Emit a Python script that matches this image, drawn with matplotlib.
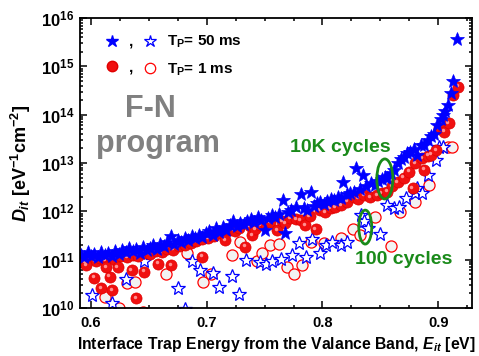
import numpy as np
import matplotlib
matplotlib.use("Agg")
import matplotlib.pyplot as plt
from matplotlib.patches import Ellipse
from matplotlib.ticker import FixedLocator, FuncFormatter, LogLocator, MultipleLocator, NullFormatter
from matplotlib.transforms import offset_copy

plt.rcParams['font.family'] = ['Liberation Sans', 'DejaVu Sans']
plt.rcParams['font.weight'] = 'bold'
plt.rcParams['mathtext.fontset'] = 'custom'
plt.rcParams['mathtext.rm'] = 'Liberation Sans:bold'
plt.rcParams['mathtext.bf'] = 'Liberation Sans:bold'
plt.rcParams['mathtext.it'] = 'Liberation Sans:italic:bold'

# 10K cycles, Tp = 50 ms (filled stars) -- energy [eV], log10(Dit)
star10k_x = [0.591, 0.594, 0.597, 0.600, 0.603, 0.606, 0.609, 0.612, 0.615, 0.618,
             0.621, 0.624, 0.627, 0.630, 0.633, 0.636, 0.639, 0.642, 0.645, 0.648,
             0.651, 0.654, 0.657, 0.660, 0.663, 0.666, 0.669, 0.672, 0.675, 0.678,
             0.681, 0.684, 0.687, 0.690, 0.693, 0.696, 0.699, 0.702, 0.705, 0.708,
             0.711, 0.714, 0.717, 0.720, 0.723, 0.726, 0.729, 0.732, 0.735, 0.738,
             0.741, 0.744, 0.747, 0.750, 0.753, 0.756, 0.759, 0.762, 0.766, 0.768,
             0.770, 0.773, 0.777, 0.781, 0.784, 0.787, 0.790, 0.793, 0.795, 0.798,
             0.801, 0.804, 0.807, 0.810, 0.813, 0.816, 0.818, 0.821, 0.824, 0.827,
             0.829, 0.832, 0.835, 0.838, 0.842, 0.845, 0.848, 0.851, 0.854, 0.856,
             0.859, 0.862, 0.865, 0.868, 0.870, 0.873, 0.876, 0.879, 0.882, 0.885,
             0.888, 0.891, 0.894, 0.896, 0.899, 0.902, 0.904, 0.906, 0.908, 0.911,
             0.913, 0.916]
star10k_y = [11.10, 11.05, 11.15, 11.08, 11.12, 11.05, 11.16, 11.10, 11.13, 11.07,
             11.18, 11.12, 11.20, 11.15, 11.24, 11.17, 11.22, 11.14, 11.27, 11.20,
             11.25, 11.30, 11.22, 11.33, 11.28, 11.36, 11.49, 11.33, 11.40, 11.37,
             11.45, 11.40, 11.48, 11.44, 11.52, 11.47, 11.55, 11.60, 11.52, 11.65,
             11.58, 11.68, 11.62, 11.72, 11.79, 11.70, 11.76, 11.73, 11.80, 11.85,
             11.78, 11.88, 11.83, 11.61, 11.86, 11.92, 11.89, 11.95, 12.23, 11.55,
             11.98, 12.03, 12.10, 12.36, 12.06, 12.03, 12.39, 12.12, 12.17, 12.20,
             12.15, 12.22, 12.26, 12.24, 12.30, 12.28, 12.61, 12.35, 12.38, 12.41,
             12.89, 12.46, 12.75, 12.52, 12.58, 12.55, 12.63, 12.66, 12.72, 12.68,
             12.80, 12.86, 12.99, 13.08, 13.13, 13.20, 13.23, 13.28, 13.17, 13.37,
             13.37, 13.48, 13.55, 13.61, 13.78, 13.92, 13.99, 14.08, 14.20, 14.45,
             14.70, 15.57]

# 100 cycles, Tp = 50 ms (open stars)
star100_x = [0.601, 0.618, 0.630, 0.646, 0.675, 0.681, 0.687, 0.694, 0.705, 0.711,
             0.722, 0.728, 0.734, 0.746, 0.751, 0.756, 0.764, 0.774, 0.780, 0.786,
             0.791, 0.798, 0.803, 0.808, 0.816, 0.821, 0.833, 0.836, 0.839, 0.850,
             0.856, 0.862, 0.866, 0.872, 0.880, 0.882, 0.886, 0.891, 0.898, 0.901,
             0.904]
star100_y = [10.27, 10.10, 10.59, 10.98, 10.42, 9.98, 10.97, 10.78, 10.72, 10.43,
             10.66, 10.30, 10.99, 10.96, 10.92, 10.98, 11.01, 11.09, 11.35, 11.06,
             11.42, 11.13, 11.30, 11.36, 11.30, 11.37, 11.92, 11.79, 11.65, 11.54,
             12.13, 12.06, 12.10, 12.27, 12.37, 12.48, 12.37, 12.75, 13.06, 13.34,
             13.34]

# 10K cycles, Tp = 1 ms (filled circles)
dot10k_x = [0.591, 0.595, 0.599, 0.604, 0.608, 0.612, 0.617, 0.621, 0.626, 0.631,
            0.636, 0.641, 0.646, 0.651, 0.656, 0.661, 0.666, 0.671, 0.676, 0.681,
            0.686, 0.691, 0.696, 0.701, 0.706, 0.712, 0.716, 0.720, 0.724, 0.728,
            0.733, 0.737, 0.739, 0.742, 0.746, 0.750, 0.755, 0.761, 0.765, 0.768,
            0.772, 0.777, 0.781, 0.785, 0.789, 0.794, 0.798, 0.802, 0.807, 0.811,
            0.816, 0.821, 0.827, 0.831, 0.836, 0.841, 0.847, 0.851, 0.856, 0.860,
            0.865, 0.870, 0.875, 0.878, 0.880, 0.886, 0.888, 0.891, 0.894, 0.898,
            0.901, 0.905, 0.909, 0.913, 0.917,
            0.596, 0.603, 0.609, 0.613, 0.616, 0.618, 0.623, 0.635, 0.639, 0.646,
            0.658, 0.669, 0.696]
dot10k_y = [11.00, 10.95, 11.02, 10.97, 11.03, 10.98, 11.05, 11.00, 11.08, 11.05,
            11.10, 11.07, 11.14, 11.12, 11.18, 11.16, 11.23, 11.21, 11.28, 11.30,
            11.34, 11.38, 11.42, 11.45, 11.50, 11.55, 11.41, 11.62, 11.60, 11.66,
            11.27, 11.70, 11.51, 11.63, 11.72, 11.75, 11.78, 11.61, 11.80, 11.75,
            11.86, 11.84, 11.82, 11.72, 11.90, 11.63, 12.03, 11.98, 12.06, 12.08,
            12.13, 12.20, 12.30, 12.26, 12.34, 12.30, 12.34, 12.38, 12.41, 12.52,
            12.61, 12.70, 12.82, 12.48, 12.99, 13.10, 12.86, 13.15, 13.17, 13.27,
            13.72, 13.65, 13.82, 14.41, 14.58,
            10.89, 10.63, 10.41, 10.84, 10.65, 10.37, 10.85, 10.79, 10.21, 10.75,
            10.92, 10.89, 11.06]

# 100 cycles, Tp = 1 ms (open circles)
dot100_x = [0.612, 0.624, 0.631, 0.638, 0.645, 0.665, 0.683, 0.697, 0.704, 0.722,
            0.729, 0.743, 0.748, 0.755, 0.762, 0.769, 0.775, 0.782, 0.790, 0.801,
            0.816, 0.826, 0.832, 0.845, 0.859, 0.867, 0.880, 0.892, 0.908, 0.912]
dot100_y = [10.22, 9.99, 10.51, 10.54, 9.92, 10.70, 11.14, 10.54, 10.70, 11.10,
            11.36, 10.98, 11.13, 11.30, 11.32, 10.84, 10.70, 10.88, 11.37, 11.35,
            11.44, 11.63, 11.51, 11.89, 11.28, 11.99, 12.20, 12.54, 13.34, 13.34]

x_ticks = [0.6, 0.7, 0.8, 0.9]
y_ticks = [1e10, 1e11, 1e12, 1e13, 1e14, 1e15, 1e16]

fig = plt.figure(figsize=(4.79, 3.56), dpi=100)
ax = fig.add_axes([0.167, 0.1348, 0.818, 0.8146])

blue = '#0000ff'
red = '#ff0000'

ax.plot(dot100_x, 10 ** np.array(dot100_y), 'o', ms=8, mfc='#f2f2f2', mec=red,
        mew=0.9, ls='none', label='100 cycles, 1 ms')
ax.plot(star100_x, 10 ** np.array(star100_y), '*', ms=10.5, mfc='white', mec=blue,
        mew=0.9, ls='none', label='100 cycles, 50 ms')
ax.plot(dot10k_x, 10 ** np.array(dot10k_y), 'o', ms=8, mfc='#f01010', mec='#e00000',
        mew=0.5, ls='none', label='10K cycles, 1 ms')
# little highlight for the shaded balls
hl = offset_copy(ax.transData, fig=fig, x=-1.3, y=1.3, units='dots')
ax.plot(dot10k_x, 10 ** np.array(dot10k_y), 'o', ms=2.5, mfc='#ff9090', mec='none',
        ls='none', transform=hl)
ax.plot(star10k_x, 10 ** np.array(star10k_y), '*', ms=10.5, mfc=blue, mec=blue,
        mew=0.5, ls='none', label='10K cycles, 50 ms')

ax.set_yscale('log')
ax.set_xlim(0.5905, 0.929)
ax.set_ylim(1e10, 1e16)

ax.xaxis.set_major_locator(FixedLocator(x_ticks))
ax.xaxis.set_minor_locator(MultipleLocator(0.025))
ax.xaxis.set_major_formatter(FuncFormatter(lambda v, p: f'{v:.1f}'))
ax.yaxis.set_major_locator(FixedLocator(y_ticks))
ax.yaxis.set_minor_locator(LogLocator(base=10, subs=np.arange(2, 10), numticks=20))
ax.yaxis.set_minor_formatter(NullFormatter())
ax.yaxis.set_major_formatter(FuncFormatter(lambda v, p: r'$\mathbf{10^{%d}}$' % round(np.log10(v))))

ax.tick_params(which='both', direction='in', top=True, right=True, width=1.1)
ax.tick_params(which='major', length=5)
ax.tick_params(which='minor', length=2.5)
ax.tick_params(axis='x', labelsize=10.5, pad=6)
ax.tick_params(axis='y', labelsize=12, pad=4)
for s in ax.spines.values():
    s.set_linewidth(1.3)

ax.set_xlabel(r'Interface Trap Energy from the Valance Band, $E_{it}$ [eV]',
              fontsize=11.3, fontweight='bold')
ax.xaxis.set_label_coords(0.5, -0.092)
ax.set_ylabel(r'$D_{it}$ [eV$^{-1}$cm$^{-2}$]', fontsize=13, fontweight='bold',
              labelpad=6)

# legend: filled , open  T_P = ...
h = [
    plt.Line2D([], [], marker='*', ms=9, mfc=blue, mec=blue, ls='none'),
    plt.Line2D([], [], marker='o', ms=7.5, mfc='#f01010', mec='#e00000', ls='none'),
    plt.Line2D([], [], marker='*', ms=9, mfc='white', mec=blue, mew=0.9, ls='none'),
    plt.Line2D([], [], marker='o', ms=7.5, mfc='white', mec=red, mew=0.9, ls='none'),
]
lab = [',', ',', r'T$_\mathregular{P}$= 50 ms', r'T$_\mathregular{P}$= 1 ms']
ax.legend(h, lab, ncol=2, loc='upper left', bbox_to_anchor=(0.062, 0.945),
          frameon=False, handlelength=1.0, handletextpad=0.6,
          columnspacing=0.6, labelspacing=0.75, borderpad=0, borderaxespad=0,
          prop={'weight': 'bold', 'size': 11})

ax.text(0.179, 0.659, 'F-N', transform=ax.transAxes, ha='center', va='baseline',
        fontsize=22, fontweight='bold', color='#808080')
ax.text(0.199, 0.538, 'program', transform=ax.transAxes, ha='center', va='baseline',
        fontsize=22, fontweight='bold', color='#808080')

green = '#1a8a1a'
ax.text(0.6645, 0.555, '10K cycles', transform=ax.transAxes, ha='center', va='center',
        fontsize=14, fontweight='bold', color=green, zorder=6)
ax.text(0.825, 0.166, '100 cycles', transform=ax.transAxes, ha='center', va='center',
        fontsize=14, fontweight='bold', color=green, zorder=6)
ax.add_patch(Ellipse((0.778, 0.445), 0.041, 0.138, transform=ax.transAxes,
                     fill=False, ec=green, lw=2, zorder=6))
ax.add_patch(Ellipse((0.728, 0.279), 0.033, 0.117, transform=ax.transAxes,
                     fill=False, ec=green, lw=2, zorder=6))

fig.savefig('out.png', dpi=100)
